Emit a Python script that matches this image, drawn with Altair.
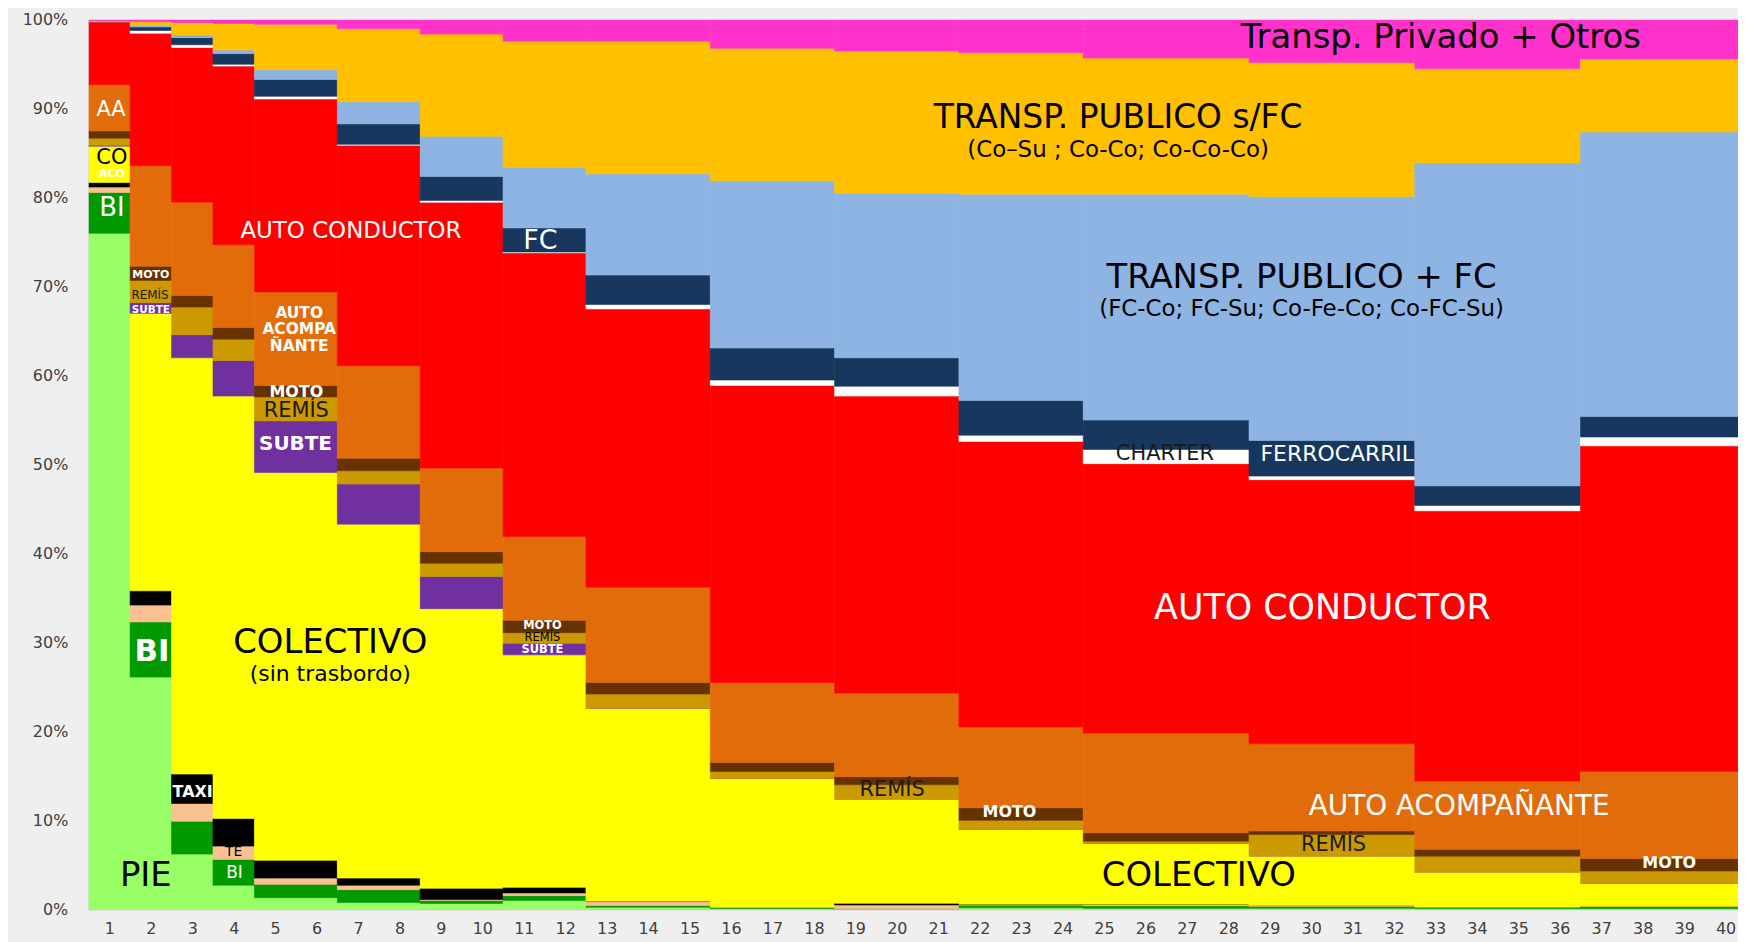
import altair as alt
import pandas as pd

# ---- x groups (age-like bins 1..40) ----
group_start = [0.5, 1.5, 2.5, 3.5, 4.5, 6.5, 8.5, 10.5, 12.5, 15.5, 18.5, 21.5, 24.5, 28.5, 32.5, 36.5]
group_end = [1.5, 2.5, 3.5, 4.5, 6.5, 8.5, 10.5, 12.5, 15.5, 18.5, 21.5, 24.5, 28.5, 32.5, 36.5, 40.5]
x_ticks = list(range(1, 41))

# ---- modes, bottom to top ----
modes = ["PIE", "BI", "TE", "TAXI", "COLECTIVO", "SUBTE", "REMÍS", "MOTO",
         "AUTO ACOMPAÑANTE", "AUTO CONDUCTOR", "CHARTER", "FERROCARRIL",
         "TRANSP. PUBLICO + FC", "TRANSP. PUBLICO s/FC", "Transp. Privado + Otros"]
colors = ["#99ff66", "#009900", "#fac090", "#000000", "#ffff00", "#7030a0", "#cc9900", "#663300",
          "#e36c0a", "#ff0000", "#ffffff", "#17375e", "#8eb4e3", "#ffc000", "#ff33cc"]

# ---- shares (%) per group ----
pie = [76.0, 26.1, 6.2, 2.7, 1.3, 0.75, 0.64, 0.97, 0.22, 0.05, 0.0, 0.17, 0.1, 0.1, 0.05, 0.05]
bici = [4.6, 6.2, 3.7, 2.9, 1.5, 1.45, 0.33, 0.56, 0.19, 0.14, 0.05, 0.23, 0.28, 0.2, 0.17, 0.25]
te = [0.6, 1.9, 2.0, 1.5, 0.7, 0.5, 0.13, 0.3, 0.45, 0.0, 0.43, 0.08, 0.15, 0.11, 0.0, 0.0]
taxi = [0.5, 1.6, 3.3, 3.1, 2.0, 0.8, 1.25, 0.63, 0.04, 0.0, 0.19, 0.08, 0.03, 0.0, 0.0, 0.0]
colectivo = [4.1, 31.2, 46.8, 47.5, 43.6, 39.8, 31.45, 26.14, 21.7, 14.51, 11.73, 8.44, 6.84, 5.59, 3.98, 2.6]
subte = [0.1, 1.2, 2.6, 4.0, 5.8, 4.5, 3.6, 1.3, 0.0, 0.0, 0.0, 0.0, 0.0, 0.0, 0.0, 0.0]
remis = [0.8, 2.5, 3.1, 2.4, 2.7, 1.5, 1.5, 1.2, 1.6, 0.8, 1.6, 1.0, 0.25, 2.4, 1.77, 1.4]
moto = [0.8, 1.6, 1.3, 1.3, 1.3, 1.4, 1.3, 1.4, 1.3, 1.0, 0.9, 1.4, 0.95, 0.4, 0.78, 1.4]
auto_acomp = [5.2, 11.3, 10.5, 9.3, 10.5, 10.4, 9.4, 9.4, 10.7, 9.0, 9.4, 9.1, 11.2, 9.8, 7.65, 9.8]
auto_cond = [7.1, 14.9, 17.4, 20.1, 21.7, 24.8, 29.9, 31.9, 31.3, 33.4, 33.4, 32.1, 30.3, 29.7, 30.4, 36.6]
charter = [0.0, 0.3, 0.3, 0.2, 0.3, 0.1, 0.2, 0.1, 0.5, 0.6, 1.1, 0.7, 1.6, 0.4, 0.6, 1.0]
ferrocarril = [0.0, 0.4, 0.8, 1.2, 1.9, 2.3, 2.7, 2.7, 3.3, 3.6, 3.2, 3.9, 3.3, 4.0, 2.2, 2.3]
tp_fc = [0.0, 0.2, 0.3, 0.4, 1.1, 2.5, 4.5, 6.8, 11.4, 18.8, 18.5, 23.2, 25.4, 27.4, 36.3, 32.0]
tp_sfc = [0.1, 0.4, 1.4, 3.0, 5.1, 8.2, 11.5, 14.2, 14.9, 14.9, 16.0, 15.9, 15.3, 15.1, 10.6, 8.2]
privado = [0.1, 0.2, 0.3, 0.4, 0.5, 1.0, 1.6, 2.4, 2.4, 3.2, 3.5, 3.7, 4.3, 4.8, 5.5, 4.4]

series = [pie, bici, te, taxi, colectivo, subte, remis, moto, auto_acomp, auto_cond,
          charter, ferrocarril, tp_fc, tp_sfc, privado]

rows = []
for g in range(len(group_start)):
    cum = 0.0
    for m, s in zip(modes, series):
        v = s[g]
        rows.append({"mode": m, "x0": group_start[g], "x1": group_end[g], "y0": cum, "y1": cum + v})
        cum += v
bars_df = pd.DataFrame(rows)

# ---- in-chart labels: text, x (unit), y (%), size, color, bold ----
lab_text = ["Transp. Privado + Otros", "TRANSP. PUBLICO s/FC", "(Co–Su ; Co-Co; Co-Co-Co)",
            "TRANSP. PUBLICO + FC", "(FC-Co; FC-Su; Co-Fe-Co; Co-FC-Su)",
            "AUTO CONDUCTOR", "AUTO CONDUCTOR", "COLECTIVO", "(sin trasbordo)", "COLECTIVO",
            "AUTO ACOMPAÑANTE", "REMÍS", "MOTO", "REMÍS", "MOTO", "CHARTER", "FERROCARRIL", "FC",
            "AUTO", "ACOMPA", "ÑANTE", "MOTO", "REMÍS", "SUBTE",
            "MOTO", "REMÍS", "SUBTE", "AA", "ACO", "CO", "BI", "BI", "TAXI", "TE", "BI", "PIE",
            "MOTO", "REMÍS", "SUBTE"]
lab_x = [33.13, 25.34, 25.34, 29.77, 29.77,
         30.27, 6.83, 6.33, 6.33, 27.29,
         33.57, 30.54, 38.64, 19.89, 22.72, 26.47, 30.63, 11.4,
         5.58, 5.58, 5.58, 5.51, 5.51, 5.49,
         2.0, 1.98, 2.0, 1.04, 1.06, 1.06, 1.06, 2.03, 3.01, 4.0, 4.02, 1.88,
         11.45, 11.45, 11.45]
lab_y = [97.95, 89.0, 85.4, 71.0, 67.5,
         33.9, 76.3, 29.9, 26.4, 3.7,
         11.5, 7.2, 5.15, 13.4, 10.9, 51.2, 51.2, 75.1,
         67.0, 65.2, 63.3, 58.1, 56.0, 52.3,
         71.3, 69.1, 67.4, 89.9, 82.7, 84.5, 78.8, 28.9, 13.2, 6.4, 4.1, 3.7,
         31.85, 30.5, 29.2]
lab_size = [34, 33, 23, 34, 23,
            35, 23, 34, 22, 34,
            28, 21, 16, 21, 16, 21, 22, 27,
            15.5, 15.5, 15.5, 16, 21, 20,
            11, 12, 10.5, 21, 11, 21, 26, 31, 16, 14, 17, 34,
            11.5, 11.5, 11.5]
lab_color = ["#000000", "#000000", "#000000", "#000000", "#000000",
             "#ffffff", "#ffffff", "#000000", "#000000", "#000000",
             "#ffffff", "#1a1a1a", "#ffffff", "#1a1a1a", "#ffffff", "#1a1a1a", "#ffffff", "#ffffff",
             "#ffffff", "#ffffff", "#ffffff", "#ffffff", "#1a1a1a", "#ffffff",
             "#ffffff", "#1a1a1a", "#ffffff", "#ffffff", "#ffffff", "#000000", "#ffffff", "#ffffff",
             "#ffffff", "#000000", "#ffffff", "#000000",
             "#ffffff", "#000000", "#ffffff"]
lab_bold = [False, False, False, False, False,
            False, False, False, False, False,
            False, False, True, False, True, False, False, False,
            True, True, True, True, False, True,
            True, False, True, False, True, False, False, True, True, False, False, False,
            True, False, True]

labels_df = pd.DataFrame({"text": lab_text, "x": lab_x, "y": lab_y, "size": lab_size,
                          "color": lab_color, "bold": lab_bold})

FONT = "DejaVu Sans"
x_scale = alt.Scale(domain=[0.5, 40.3], nice=False, zero=False)
y_scale = alt.Scale(domain=[0, 100], nice=False)

bars = alt.Chart(bars_df).mark_rect(clip=True, strokeWidth=0.6).encode(
    x=alt.X("x0:Q", scale=x_scale,
            axis=alt.Axis(values=x_ticks, format="d", title=None, ticks=False, tickSize=0,
                          domain=False, grid=False, labelFontSize=16, labelColor="#404040",
                          labelPadding=11, labelFlush=False, labelOverlap=False, labelFont=FONT)),
    x2="x1:Q",
    y=alt.Y("y0:Q", scale=y_scale,
            axis=alt.Axis(values=list(range(0, 101, 10)), labelExpr="datum.value + '%'",
                          title=None, ticks=False, tickSize=0, domain=False, grid=False,
                          labelFontSize=16, labelColor="#404040", labelPadding=21, labelFont=FONT)),
    y2="y1:Q",
    color=alt.Color("mode:N", scale=alt.Scale(domain=modes, range=colors), legend=None),
    stroke=alt.Stroke("mode:N", scale=alt.Scale(domain=modes, range=colors), legend=None),
)

text_normal = alt.Chart(labels_df).transform_filter("!datum.bold").mark_text(
    font=FONT, baseline="middle", align="center"
).encode(
    x=alt.X("x:Q", scale=x_scale),
    y=alt.Y("y:Q", scale=y_scale),
    text="text:N",
    size=alt.Size("size:Q", scale=None),
    color=alt.Color("color:N", scale=None),
)

text_bold = alt.Chart(labels_df).transform_filter("datum.bold").mark_text(
    font=FONT, baseline="middle", align="center", fontWeight="bold"
).encode(
    x=alt.X("x:Q", scale=x_scale),
    y=alt.Y("y:Q", scale=y_scale),
    text="text:N",
    size=alt.Size("size:Q", scale=None),
    color=alt.Color("color:N", scale=None),
)

chart = alt.layer(bars, text_normal, text_bold).properties(
    width=1656,
    height=893,
    autosize=alt.AutoSizeParams(type="none"),
    padding={"left": 81, "top": 10, "right": 0, "bottom": 31},
    background="#efefef",
).configure_view(stroke="#c0c0c0", strokeWidth=1)

chart.save("out.html", embed_options={"renderer": "svg", "actions": False})
